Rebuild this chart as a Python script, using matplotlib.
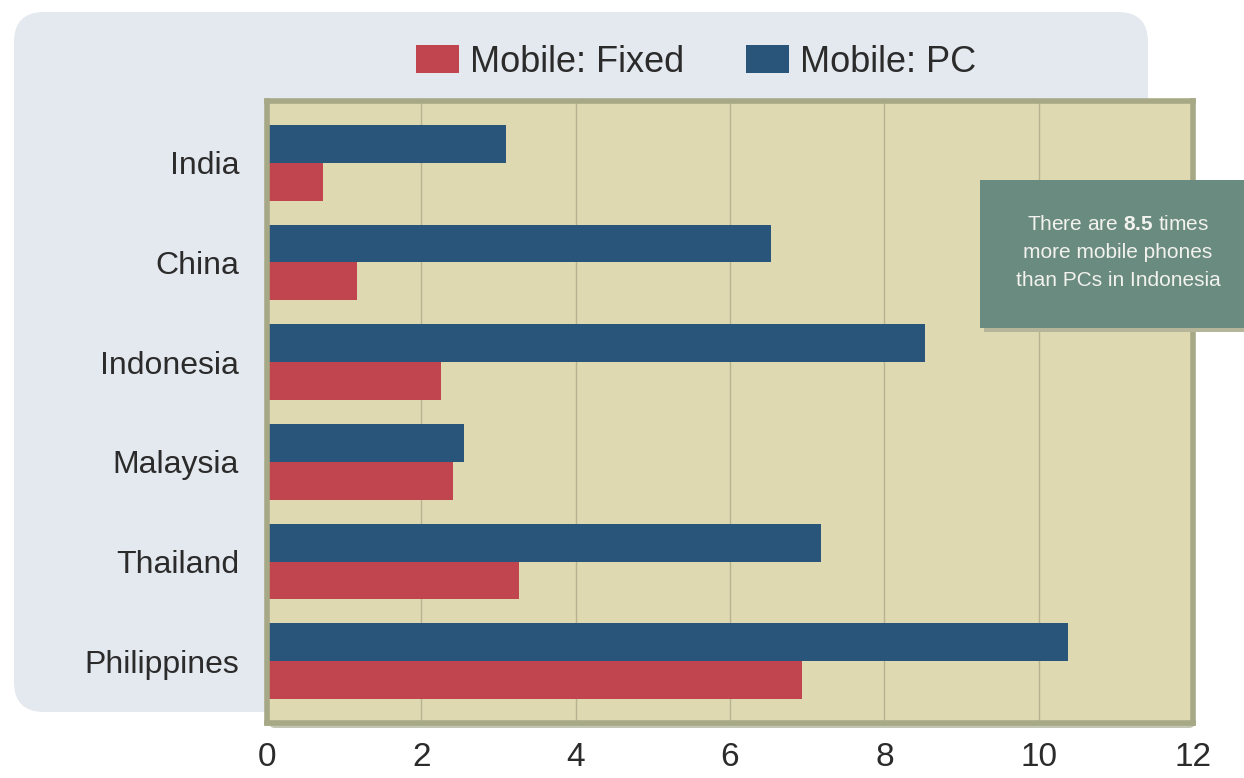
import matplotlib

matplotlib.use("Agg")

import matplotlib.pyplot as plt
from matplotlib.patches import FancyBboxPatch, Patch
from matplotlib.transforms import IdentityTransform
import numpy as np

plt.rcParams["font.family"] = ["Liberation Sans", "DejaVu Sans"]
plt.rcParams["mathtext.fontset"] = "custom"
plt.rcParams["mathtext.bf"] = "Liberation Sans:bold"
plt.rcParams["mathtext.rm"] = "Liberation Sans"

countries = ["India", "China", "Indonesia", "Malaysia", "Thailand", "Philippines"]
mobile_fixed = [0.73, 1.16, 2.26, 2.41, 3.27, 6.93]
mobile_pc = [3.10, 6.53, 8.53, 2.55, 7.18, 10.38]
x_ticks = [0, 2, 4, 6, 8, 10, 12]

RED = "#c0454f"
BLUE = "#29557a"
KHAKI = "#ded9b1"
FRAME = "#a6a886"
PANEL = "#e4e9ef"
NOTE = "#6a8b80"
INK = "#2b2b2b"

W, H = 1244, 778
fig = plt.figure(figsize=(W / 100, H / 100), dpi=100)
fig.patch.set_facecolor("white")

# light rounded panel behind labels and legend (pixel coords, origin bottom-left)
panel = FancyBboxPatch(
    (14, H - 712), 1134, 700,
    boxstyle="round,pad=0,rounding_size=30",
    facecolor=PANEL, edgecolor="none",
    transform=IdentityTransform(), zorder=-2,
)
fig.patches.append(panel)

ax_left, ax_right, ax_top, ax_bottom = 267, 1193, 101, 723
ax = fig.add_axes([
    ax_left / W, (H - ax_bottom) / H,
    (ax_right - ax_left) / W, (ax_bottom - ax_top) / H,
])
ax.set_facecolor(KHAKI)

# soft drop shadow under the plot frame
shadow = FancyBboxPatch(
    (ax_left + 2, H - ax_bottom - 5), ax_right - ax_left, ax_bottom - ax_top,
    boxstyle="round,pad=0,rounding_size=6",
    facecolor="#c3c4b2", edgecolor="none",
    transform=IdentityTransform(), zorder=-1,
)
fig.patches.append(shadow)

y = np.arange(len(countries))
bar_h = 0.38
ax.barh(y - bar_h / 2, mobile_pc, height=bar_h, color=BLUE, zorder=2)
ax.barh(y + bar_h / 2, mobile_fixed, height=bar_h, color=RED, zorder=2)

ax.set_xlim(0, 12)
ax.set_ylim(len(countries) - 0.38, -0.62)
ax.set_xticks(x_ticks)
ax.set_xticklabels([str(t) for t in x_ticks], fontsize=24, color=INK,
                   family=["Liberation Sans Narrow", "Liberation Sans"])
ax.set_yticks(y)
ax.set_yticklabels(countries, fontsize=23, color=INK)
ax.tick_params(axis="both", length=0)
ax.tick_params(axis="x", pad=14)
ax.tick_params(axis="y", pad=20)

for gx in x_ticks[1:-1]:
    ax.axvline(gx, color="#b6b391", linewidth=1.0, zorder=1)

for side in ax.spines.values():
    side.set_color(FRAME)
    side.set_linewidth(4)

# legend above the plot
handles = [Patch(facecolor=RED, label="Mobile: Fixed"),
           Patch(facecolor=BLUE, label="Mobile: PC")]
fig.legend(
    handles=handles, loc="center", bbox_to_anchor=(696 / W, 1 - 62 / H),
    ncol=2, frameon=False, fontsize=26, handlelength=1.2, handleheight=0.8,
    handletextpad=0.3, columnspacing=1.7, labelcolor=INK,
)

# callout box on the right
note_shadow = FancyBboxPatch(
    (984, H - 332), 270, 148, boxstyle="square,pad=0",
    facecolor="#b5b59a", edgecolor="none",
    transform=IdentityTransform(), zorder=3,
)
note = FancyBboxPatch(
    (980, H - 328), 270, 148, boxstyle="square,pad=0",
    facecolor=NOTE, edgecolor="none",
    transform=IdentityTransform(), zorder=4,
)
fig.patches.extend([note_shadow, note])
note_lines = [r"There are $\mathbf{8.5}$ times", "more mobile phones",
              "than PCs in Indonesia"]
for i, line in enumerate(note_lines):
    fig.text(1118 / W, 1 - (224 + i * 28) / H, line, ha="center", va="center",
             fontsize=15, color="#f2f2ee", zorder=5)

fig.savefig("out.png", dpi=100)
